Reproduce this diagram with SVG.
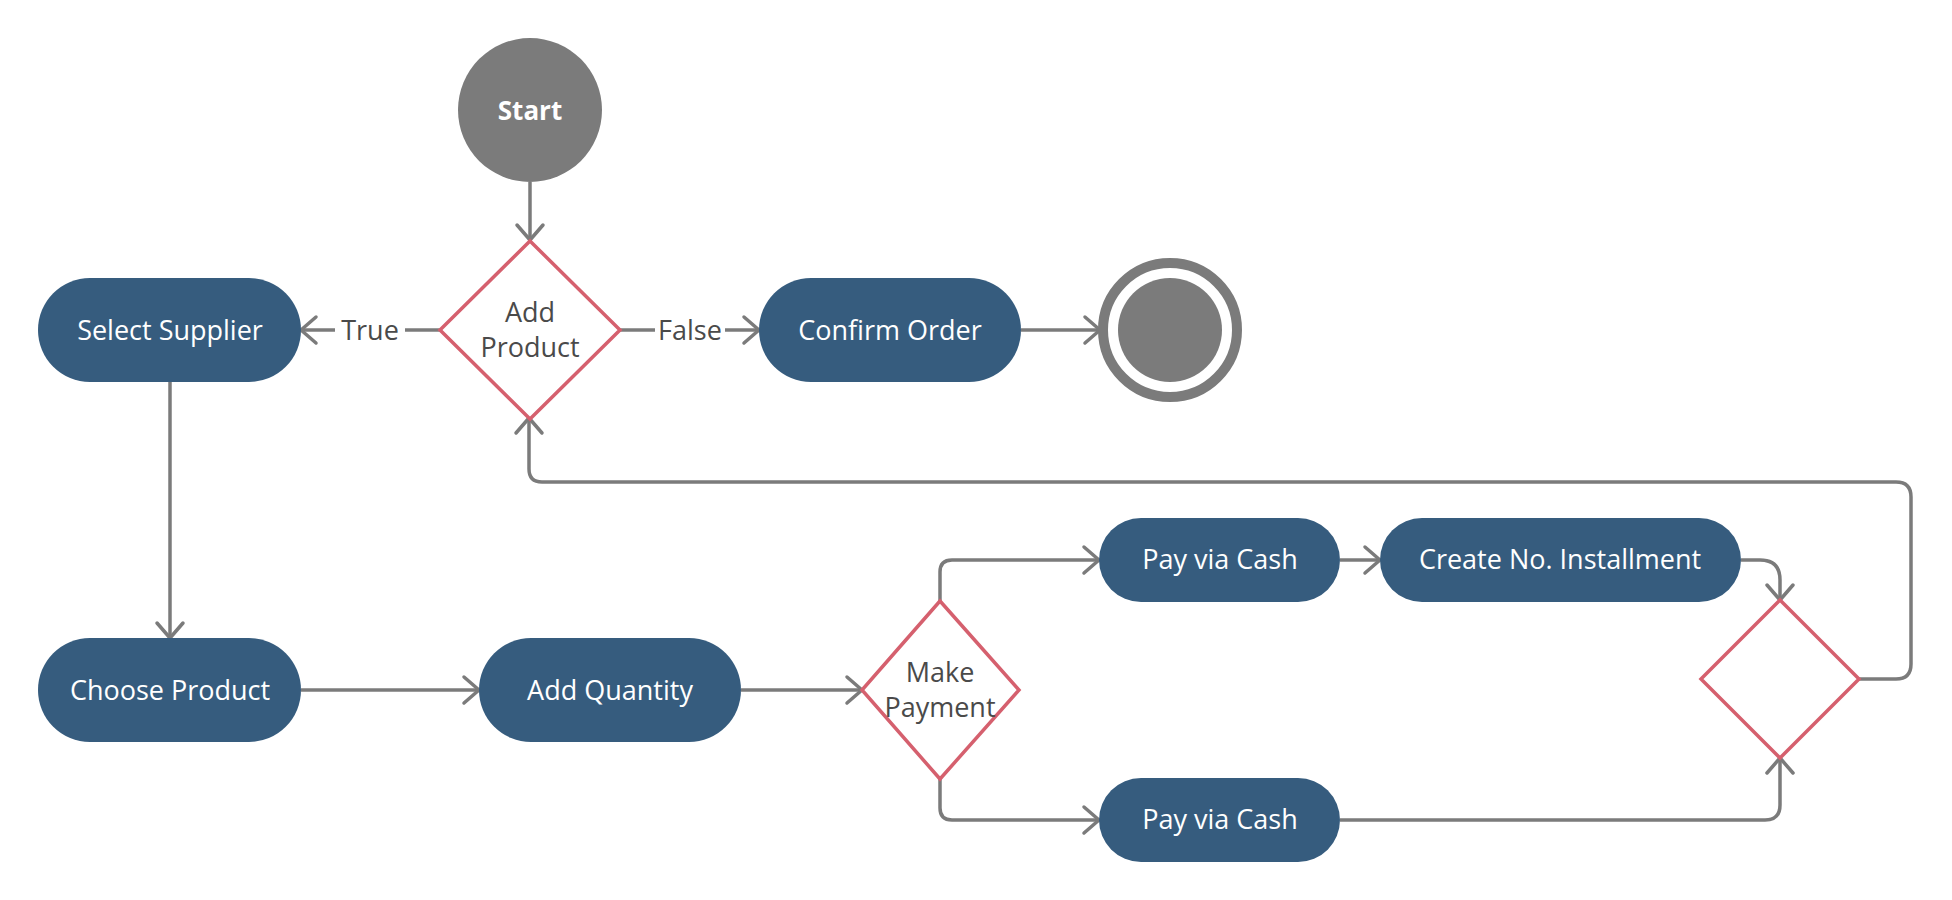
<svg xmlns="http://www.w3.org/2000/svg" width="1952" height="900" viewBox="0 0 1952 900">
<defs>
<style>
.act{fill:#365c7e}
.act-t{fill:#ffffff;font-family:"Open Sans","Noto Sans","Liberation Sans",sans-serif;font-size:27px;text-anchor:middle}
.dec{fill:#ffffff;stroke:#d5606e;stroke-width:3.5}
.dec-t{fill:#4a4a4a;font-family:"Open Sans","Noto Sans","Liberation Sans",sans-serif;font-size:27px;text-anchor:middle}
.lbl{fill:#4a4a4a;font-family:"Open Sans","Noto Sans","Liberation Sans",sans-serif;font-size:27px;text-anchor:middle}
.con{fill:none;stroke:#7b7b7b;stroke-width:3.5;marker-end:url(#arr)}
.gray{fill:#7b7b7b}
</style>
<marker id="arr" markerUnits="userSpaceOnUse" markerWidth="40" markerHeight="40" viewBox="-20 -20 40 40" refX="0" refY="0" orient="auto" overflow="visible">
<path d="M-15,-13 L0,0 L-15,13" fill="none" stroke="#7b7b7b" stroke-width="3.5" stroke-linecap="round" stroke-linejoin="round"/>
</marker>
</defs>
<rect width="1952" height="900" fill="#ffffff"/>

<g id="connectors">
<path class="con" d="M530,182 L530,240"/>
<path class="con" d="M440,330 L301,330"/>
<path class="con" d="M620,330 L759,330"/>
<path class="con" d="M1021,330 L1100,330"/>
<path class="con" d="M170,382 L170,638"/>
<path class="con" d="M301,690 L479,690"/>
<path class="con" d="M741,690 L862,690"/>
<path class="con" d="M940,601 L940,572 Q940,560 952,560 L1099,560"/>
<path class="con" d="M940,779 L940,808 Q940,820 952,820 L1099,820"/>
<path class="con" d="M1340,560 L1380,560"/>
<path class="con" d="M1741,560 L1760,560 Q1780,560 1780,580 L1780,600"/>
<path class="con" d="M1340,820 L1765,820 Q1780,820 1780,805 L1780,758"/>
<path class="con" d="M1859,679 L1896,679 Q1911,679 1911,664 L1911,497 Q1911,482 1896,482 L542,482 Q529,482 529,469 L529,418"/>
<rect x="335" y="312" width="70" height="36" fill="#ffffff"/>
<text class="lbl" x="370" y="340">True</text>
<rect x="655" y="312" width="70" height="36" fill="#ffffff"/>
<text class="lbl" x="690" y="340">False</text>
</g>

<g id="start">
<circle class="gray" cx="530" cy="110" r="72"/>
<text x="530" y="120" fill="#ffffff" font-family="'Open Sans','Noto Sans','Liberation Sans',sans-serif" font-size="26" font-weight="bold" text-anchor="middle">Start</text>
</g>

<g id="add-product">
<polygon class="dec" points="530,241 620,330 530,419 440,330"/>
<text class="dec-t" x="530" y="322">Add</text>
<text class="dec-t" x="530" y="357">Product</text>
</g>

<g id="select-supplier">
<rect class="act" x="38" y="278" width="263" height="104" rx="52"/>
<text class="act-t" x="170" y="340">Select Supplier</text>
</g>

<g id="confirm-order">
<rect class="act" x="759" y="278" width="262" height="104" rx="52"/>
<text class="act-t" x="890" y="340">Confirm Order</text>
</g>

<g id="end">
<circle cx="1170" cy="330" r="67" fill="none" stroke="#7b7b7b" stroke-width="10"/>
<circle class="gray" cx="1170" cy="330" r="52"/>
</g>

<g id="choose-product">
<rect class="act" x="38" y="638" width="263" height="104" rx="52"/>
<text class="act-t" x="170" y="700">Choose Product</text>
</g>

<g id="add-quantity">
<rect class="act" x="479" y="638" width="262" height="104" rx="52"/>
<text class="act-t" x="610" y="700">Add Quantity</text>
</g>

<g id="make-payment">
<polygon class="dec" points="940,601 1019,690 940,779 862,690"/>
<text class="dec-t" x="940" y="682">Make</text>
<text class="dec-t" x="940" y="717">Payment</text>
</g>

<g id="pay-cash-top">
<rect class="act" x="1099" y="518" width="241" height="84" rx="42"/>
<text class="act-t" x="1220" y="569">Pay via Cash</text>
</g>

<g id="create-installment">
<rect class="act" x="1380" y="518" width="361" height="84" rx="42"/>
<text class="act-t" x="1560" y="569">Create No. Installment</text>
</g>

<g id="pay-cash-bottom">
<rect class="act" x="1099" y="778" width="241" height="84" rx="42"/>
<text class="act-t" x="1220" y="829">Pay via Cash</text>
</g>

<g id="merge">
<polygon class="dec" points="1780,600 1859,679 1780,758 1701,679"/>
</g>
</svg>
